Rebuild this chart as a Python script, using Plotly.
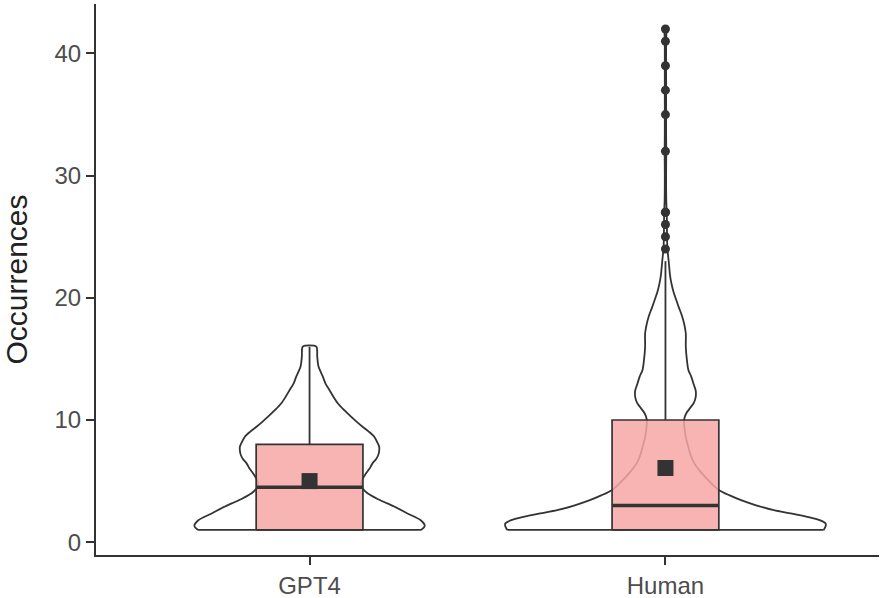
import plotly.graph_objects as go

# ---------------- data ----------------
categories = ["GPT4", "Human"]
cat_pos = [1, 2]

# box statistics
q1 = [1, 1]
median = [4.5, 3]
q3 = [8, 10]
upper_whisker = [16, 23]
lower_whisker = [1, 1]
means = [5.0, 6.07]

# outliers (Human)
human_outliers = [24, 25, 26, 27, 27, 32, 35, 37, 39, 41, 42]

# violin densities (relative width, 1 = widest violin) read at y levels
gpt4_violin_y = [1.0, 1.2, 1.4, 1.8, 2.35, 2.8, 3.17, 3.6, 4.0, 4.4, 4.81, 5.2, 5.63, 6.05,
                 6.45, 6.8, 7.13, 7.5, 7.81, 8.2, 8.63, 9.05, 9.45, 9.85, 10.27, 10.8,
                 11.37, 11.9, 12.46, 13.0, 13.55, 14.37, 15.18, 16.0]
gpt4_violin_w = [0.696, 0.714, 0.719, 0.694, 0.611, 0.547, 0.486, 0.416, 0.362, 0.332,
                 0.323, 0.332, 0.352, 0.376, 0.393, 0.416, 0.429, 0.435, 0.435, 0.422,
                 0.404, 0.370, 0.331, 0.295, 0.259, 0.217, 0.176, 0.149, 0.124, 0.099,
                 0.083, 0.056, 0.048, 0.042]

human_violin_y = [1.0, 1.3, 1.53, 1.8, 2.07, 2.35, 2.62, 3.0, 3.44, 3.85, 4.26, 4.67,
                  5.08, 5.8, 6.45, 7.1, 7.8, 8.6, 9.45, 10.0, 10.55, 11.0, 11.4, 11.9,
                  12.4, 12.9, 13.55, 14.1, 14.9, 16.0, 17.1, 17.8, 18.5, 19.2, 19.8,
                  20.5, 21.2, 21.9, 22.6, 23.4, 24.0, 25.0, 26.0, 27.0, 28.0, 30.0,
                  32.0, 33.5, 35.0, 37.0, 39.0, 41.0, 42.0]
human_violin_w = [0.988, 1.0, 1.0, 0.963, 0.886, 0.783, 0.677, 0.571, 0.472, 0.398,
                  0.335, 0.298, 0.267, 0.217, 0.180, 0.158, 0.143, 0.127, 0.118, 0.116,
                  0.130, 0.155, 0.177, 0.189, 0.189, 0.177, 0.161, 0.143, 0.134, 0.127,
                  0.127, 0.118, 0.104, 0.084, 0.068, 0.050, 0.037, 0.028, 0.023, 0.017,
                  0.012, 0.010, 0.009, 0.008, 0.005, 0.004, 0.005, 0.004, 0.004, 0.004,
                  0.004, 0.004, 0.004]

violin_y = [gpt4_violin_y, human_violin_y]
violin_w = [gpt4_violin_w, human_violin_w]

# ---------------- style ----------------
DARK = "#333333"
BOX_FILL = "rgba(247,167,164,0.85)"
VIOLIN_HALF = 0.45   # max half width in x units
BOX_HALF = 0.15
FONT = "Liberation Sans, Arial, sans-serif"
LW = 1.8

fig = go.Figure()

# violins (outline only)
for c, ys, ws in zip(cat_pos, violin_y, violin_w):
    left_x = [c - w * VIOLIN_HALF for w in ws]
    right_x = [c + w * VIOLIN_HALF for w in ws]
    xs = left_x + right_x[::-1]
    yy = ys + ys[::-1]
    fig.add_trace(go.Scatter(x=xs, y=yy, mode="lines",
                             line=dict(color=DARK, width=LW, shape="spline", smoothing=0.8),
                             hoverinfo="skip", showlegend=False))
    # flat bottom closing the violin
    fig.add_trace(go.Scatter(x=[left_x[0], right_x[0]], y=[ys[0], ys[0]], mode="lines",
                             line=dict(color=DARK, width=LW),
                             hoverinfo="skip", showlegend=False))

# boxes
for i, c in enumerate(cat_pos):
    # whiskers
    fig.add_trace(go.Scatter(x=[c, c], y=[q3[i], upper_whisker[i]], mode="lines",
                             line=dict(color=DARK, width=LW), showlegend=False))
    fig.add_trace(go.Scatter(x=[c, c], y=[lower_whisker[i], q1[i]], mode="lines",
                             line=dict(color=DARK, width=LW), showlegend=False))
    # box body
    fig.add_trace(go.Scatter(
        x=[c - BOX_HALF, c + BOX_HALF, c + BOX_HALF, c - BOX_HALF, c - BOX_HALF],
        y=[q1[i], q1[i], q3[i], q3[i], q1[i]],
        mode="lines", fill="toself", fillcolor=BOX_FILL,
        line=dict(color=DARK, width=1.7), showlegend=False))
    # median
    fig.add_trace(go.Scatter(x=[c - BOX_HALF, c + BOX_HALF], y=[median[i], median[i]],
                             mode="lines", line=dict(color=DARK, width=3.4), showlegend=False))

# outliers
fig.add_trace(go.Scatter(x=[2] * len(human_outliers), y=human_outliers, mode="markers",
                         marker=dict(color=DARK, size=9), showlegend=False))

# means
fig.add_trace(go.Scatter(x=cat_pos, y=means, mode="markers",
                         marker=dict(color=DARK, size=16, symbol="square"), showlegend=False))

fig.update_layout(
    width=889, height=598,
    margin=dict(l=96, r=10, t=4, b=43, autoexpand=False),
    plot_bgcolor="white", paper_bgcolor="white",
    font=dict(family=FONT, color="#4D4D4D"),
    showlegend=False,
)
fig.update_xaxes(
    range=[0.4, 2.6], tickvals=cat_pos, ticktext=categories,
    showline=True, linecolor=DARK, linewidth=2, mirror=False,
    ticks="outside", ticklen=8, tickwidth=2, tickcolor=DARK,
    tickfont=dict(size=24, color="#4D4D4D", family=FONT),
    showgrid=False, zeroline=False, automargin=False,
)
fig.update_yaxes(
    range=[-1.05, 44.05], tickvals=[0, 10, 20, 30, 40],
    showline=True, linecolor=DARK, linewidth=2,
    ticks="outside", ticklen=8, tickwidth=2, tickcolor=DARK,
    tickfont=dict(size=24, color="#4D4D4D", family=FONT),
    title=dict(text="Occurrences", font=dict(size=30, color="#222222", family=FONT), standoff=20),
    showgrid=False, zeroline=False, automargin=False,
)

fig.write_html("out.html")
